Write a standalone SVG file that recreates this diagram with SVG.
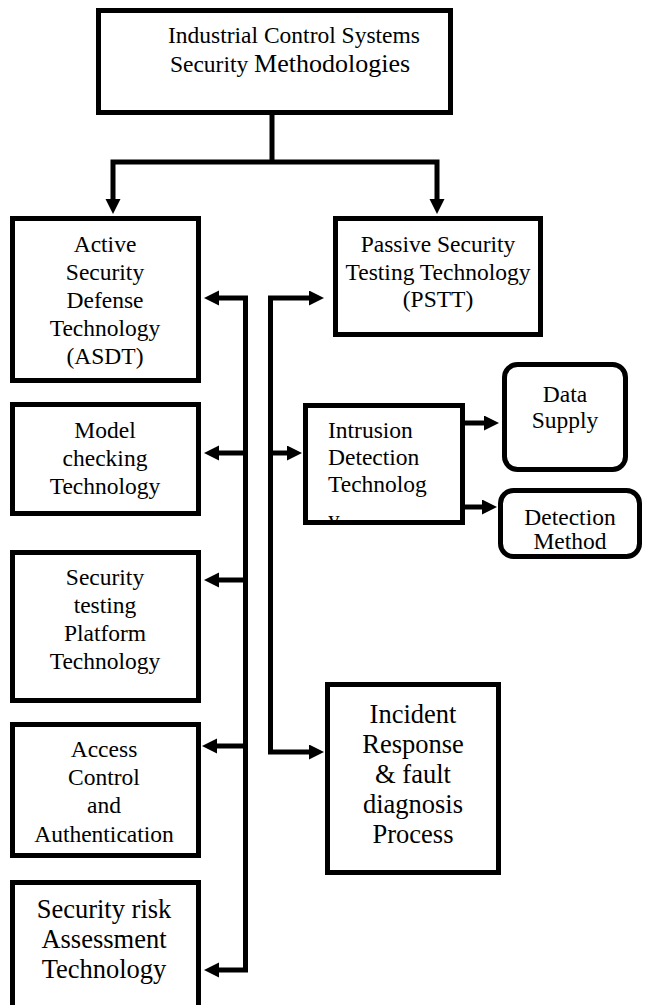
<svg xmlns="http://www.w3.org/2000/svg" width="645" height="1005" viewBox="0 0 645 1005">
  <style>
    .box { fill: #ffffff; stroke: #000000; stroke-width: 5; }
    .wire { fill: none; stroke: #000000; stroke-width: 5; stroke-linejoin: miter; }
    .t { font-family: "Liberation Serif", "Times New Roman", serif; font-size: 23.5px; fill: #000000; text-anchor: middle; }
    .big { font-size: 26.5px; }
    .left { text-anchor: start; }
  </style>
  <defs>
    <marker id="ah" markerUnits="userSpaceOnUse" markerWidth="16" markerHeight="16" viewBox="0 0 16 16" refX="1" refY="7.5" orient="auto-start-reverse">
      <path d="M0,0 L15,7.5 L0,15 z" fill="#000000"/>
    </marker>
    <clipPath id="idtClip">
      <rect x="305.5" y="405.5" width="157" height="115"/>
    </clipPath>
  </defs>

  <!-- connectors -->
  <g id="connectors">
    <path class="wire" d="M272,113 V162"/>
    <path class="wire" d="M113,200 V162 H437 V200" marker-start="url(#ah)" marker-end="url(#ah)"/>
    <!-- left bus to the active-side technologies -->
    <path class="wire" d="M218,298 H245.5 V970 H218" marker-start="url(#ah)" marker-end="url(#ah)"/>
    <path class="wire" d="M245.5,453 H218" marker-end="url(#ah)"/>
    <path class="wire" d="M245.5,580 H218" marker-end="url(#ah)"/>
    <path class="wire" d="M245.5,746 H216" marker-end="url(#ah)"/>
    <!-- right bus to the passive-side technologies -->
    <path class="wire" d="M310,298 H270.5 V752 H310" marker-start="url(#ah)" marker-end="url(#ah)"/>
    <path class="wire" d="M270.5,453 H288" marker-end="url(#ah)"/>
    <!-- intrusion detection outputs -->
    <path class="wire" d="M465,423 H485" marker-end="url(#ah)"/>
    <path class="wire" d="M465,507 H483" marker-end="url(#ah)"/>
  </g>

  <g id="root">
    <rect class="box" x="98.5" y="10.5" width="352" height="102"/>
    <text class="t" x="294" y="43">Industrial Control Systems</text>
    <text class="t" x="290" y="72">Security <tspan font-size="26px">Methodologies</tspan></text>
  </g>

  <g id="asdt">
    <rect class="box" x="12.5" y="218.5" width="186" height="162"/>
    <text class="t" x="105" y="252">Active</text>
    <text class="t" x="105" y="280">Security</text>
    <text class="t" x="105" y="308">Defense</text>
    <text class="t" x="105" y="336">Technology</text>
    <text class="t" x="105" y="364">(ASDT)</text>
  </g>

  <g id="pstt">
    <rect class="box" x="335.5" y="218.5" width="205" height="116"/>
    <text class="t" x="438" y="252">Passive Security</text>
    <text class="t" x="438" y="280">Testing Technology</text>
    <text class="t" x="438" y="307">(PSTT)</text>
  </g>

  <g id="model-checking">
    <rect class="box" x="12.5" y="404.5" width="186" height="109"/>
    <text class="t" x="105" y="438">Model</text>
    <text class="t" x="105" y="466">checking</text>
    <text class="t" x="105" y="494">Technology</text>
  </g>

  <g id="intrusion-detection">
    <rect class="box" x="305.5" y="405.5" width="157" height="117"/>
    <g clip-path="url(#idtClip)">
      <text class="t left" x="328" y="438">Intrusion</text>
      <text class="t left" x="328" y="465">Detection</text>
      <text class="t left" x="328" y="492">Technolog</text>
      <text class="t left" x="328" y="527">y</text>
    </g>
  </g>

  <g id="data-supply">
    <rect class="box" x="504.5" y="364.5" width="121" height="105" rx="13" ry="13"/>
    <text class="t" x="565" y="402">Data</text>
    <text class="t" x="565" y="428">Supply</text>
  </g>

  <g id="detection-method">
    <rect class="box" x="500.5" y="490.5" width="139" height="66" rx="13" ry="13"/>
    <text class="t" x="570" y="525">Detection</text>
    <text class="t" x="570" y="549">Method</text>
  </g>

  <g id="security-testing-platform">
    <rect class="box" x="12.5" y="552.5" width="186" height="148"/>
    <text class="t" x="105" y="585">Security</text>
    <text class="t" x="105" y="613">testing</text>
    <text class="t" x="105" y="641">Platform</text>
    <text class="t" x="105" y="669">Technology</text>
  </g>

  <g id="incident-response">
    <rect class="box" x="327.5" y="684.5" width="171" height="188"/>
    <text class="t big" x="413" y="723">Incident</text>
    <text class="t big" x="413" y="753">Response</text>
    <text class="t big" x="413" y="783">&amp; fault</text>
    <text class="t big" x="413" y="813">diagnosis</text>
    <text class="t big" x="413" y="843">Process</text>
  </g>

  <g id="access-control">
    <rect class="box" x="12.5" y="724.5" width="186" height="131"/>
    <text class="t" x="104" y="757">Access</text>
    <text class="t" x="104" y="785">Control</text>
    <text class="t" x="104" y="813">and</text>
    <text class="t" x="104" y="842">Authentication</text>
  </g>

  <g id="risk-assessment">
    <rect class="box" x="12.5" y="882.5" width="186" height="140"/>
    <text class="t big" x="104" y="918">Security risk</text>
    <text class="t big" x="104" y="948">Assessment</text>
    <text class="t big" x="104" y="978">Technology</text>
  </g>
</svg>
